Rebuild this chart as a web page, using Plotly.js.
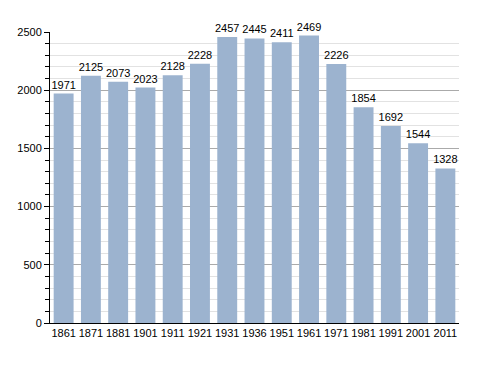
<!DOCTYPE html>
<html><head><meta charset="utf-8">
<script src="https://cdn.plot.ly/plotly-3.0.1.min.js"></script>
<style>html,body{margin:0;padding:0;background:#fff}#chart{width:488px;height:373px}</style>
</head><body><div id="chart"></div>
<script>
const years = ["1861","1871","1881","1901","1911","1921","1931","1936","1951","1961","1971","1981","1991","2001","2011"];
const population = [1971,2125,2073,2023,2128,2228,2457,2445,2411,2469,2226,1854,1692,1544,1328];
const yTicks = [0,500,1000,1500,2000,2500];

Plotly.newPlot('chart', [{
  type: 'bar',
  x: years,
  y: population,
  text: population.map(String),
  textposition: 'outside',
  constraintext: 'none',
  cliponaxis: false,
  textfont: {family: 'Liberation Sans, Arial, sans-serif', size: 11, color: '#000'},
  marker: {color: '#9cb3cf'},
  hoverinfo: 'none'
}], {
  width: 488, height: 373,
  margin: {l: 50, r: 29, t: 32, b: 50},
  paper_bgcolor: '#fff', plot_bgcolor: '#fff',
  bargap: 0.27,
  showlegend: false,
  font: {family: 'Liberation Sans, Arial, sans-serif', size: 11, color: '#000'},
  xaxis: {
    type: 'category',
    showline: true, linecolor: '#000', linewidth: 1,
    ticks: '', showgrid: false,
    tickfont: {size: 11}
  },
  yaxis: {
    range: [0, 2500],
    tickvals: yTicks,
    showline: true, linecolor: '#000', linewidth: 1,
    ticks: 'outside', ticklen: 5, tickcolor: '#000',
    showgrid: true, gridcolor: '#aaaaaa', gridwidth: 1,
    zeroline: false,
    tickfont: {size: 11},
    minor: {dtick: 100, tick0: 0, ticks: 'outside', ticklen: 4, tickcolor: '#000', showgrid: true, gridcolor: '#e2e2e2', gridwidth: 1}
  }
}, {displayModeBar: false, staticPlot: true});
</script></body></html>
